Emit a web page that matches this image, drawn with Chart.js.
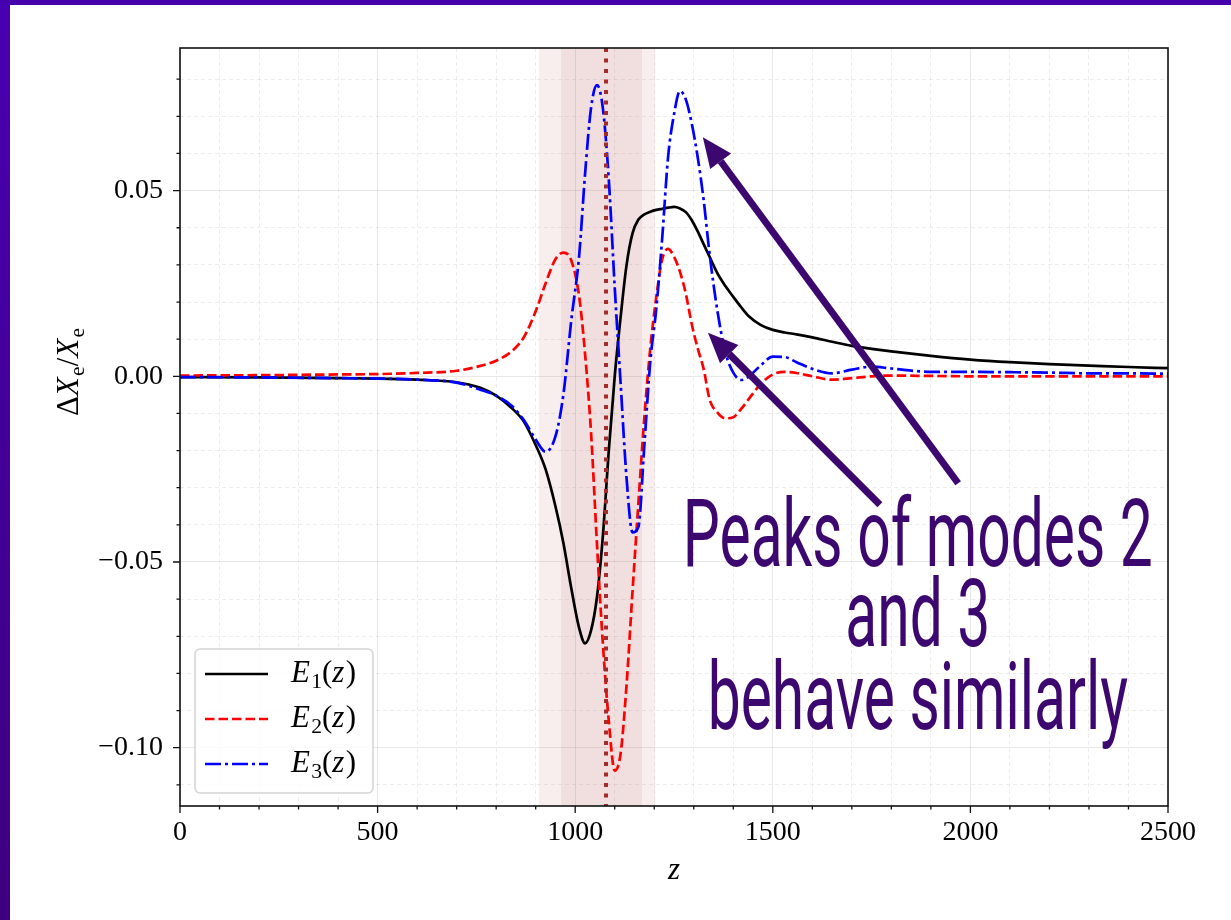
<!DOCTYPE html>
<html>
<head>
<meta charset="utf-8">
<script src="https://cdn.jsdelivr.net/npm/chart.js@4.4.1/dist/chart.umd.min.js"></script>
<style>
  html, body { margin: 0; padding: 0; background: #fff; overflow: hidden; }
  #wrap { position: relative; width: 1231px; height: 920px; }
  #chart { position: absolute; left: 0; top: 0; }
  #leftbar { position: absolute; left: 0; top: 0; width: 10px; height: 920px; background: linear-gradient(#4700b2, #3d007f); }
  #topbar { position: absolute; left: 0; top: 0; width: 1231px; height: 5px; background: #4500ae; }
</style>
</head>
<body>
<div id="wrap">
  <canvas id="chart" width="1231" height="920"></canvas>
  <div id="leftbar"></div>
  <div id="topbar"></div>
</div>
<script>
// redshift samples shared by the three modes
const zValues = [0, 200, 400, 500, 600, 700, 760, 800, 840, 870, 900, 925, 950, 970, 990, 1010,
  1025, 1040, 1055, 1070, 1085, 1100, 1115, 1130, 1145, 1160, 1175, 1190, 1205, 1220, 1235,
  1250, 1265, 1280, 1295, 1310, 1325, 1340, 1360, 1380, 1400, 1420, 1440, 1470, 1500, 1530,
  1560, 1600, 1650, 1700, 1750, 1800, 1900, 2000, 2100, 2200, 2300, 2400, 2500]

const e1Values = [-0.0002, -0.0003, -0.0005, -0.0006, -0.0009, -0.0016, -0.0031, -0.0052, -0.0086, -0.0122, -0.0185, -0.0250, -0.0350, -0.0448, -0.0570, -0.0678,
  -0.0719, -0.0685, -0.0595, -0.0430, -0.0200, 0.0000, 0.0160, 0.0300, 0.0385, 0.0422, 0.0436, 0.0443, 0.0448, 0.0451, 0.0454,
  0.0456, 0.0452, 0.0442, 0.0420, 0.0390, 0.0356, 0.0322, 0.0277, 0.0243, 0.0214, 0.0186, 0.0161, 0.0138, 0.0125, 0.0118,
  0.0113, 0.0105, 0.0093, 0.0082, 0.0074, 0.0067, 0.0055, 0.0045, 0.0038, 0.0033, 0.0029, 0.0025, 0.0022]

const e2Values = [0.0002, 0.0003, 0.0005, 0.0006, 0.0009, 0.0015, 0.0028, 0.0042, 0.0068, 0.0105, 0.0175, 0.0250, 0.0315, 0.0333, 0.0312, 0.0215,
  0.0060, -0.0150, -0.0450, -0.0720, -0.0928, -0.1062, -0.1015, -0.0830, -0.0580, -0.0340, -0.0110, 0.0075, 0.0212, 0.0315, 0.0343,
  0.0322, 0.0282, 0.0222, 0.0140, 0.0075, 0.0020, -0.0062, -0.0098, -0.0113, -0.0110, -0.0088, -0.0060, -0.0020, 0.0005, 0.0012,
  0.0009, 0.0000, -0.0009, -0.0005, 0.0000, 0.0002, 0.0001, 0.0000, 0.0000, 0.0000, 0.0000, 0.0000, 0.0000]

const e3Values = [-0.0002, -0.0003, -0.0005, -0.0006, -0.0009, -0.0017, -0.0036, -0.0052, -0.0080, -0.0118, -0.0170, -0.0203, -0.0162, -0.0050, 0.0150, 0.0325,
  0.0545, 0.0722, 0.0784, 0.0722, 0.0530, 0.0240, -0.0020, -0.0275, -0.0420, -0.0405, -0.0185, 0.0040, 0.0180, 0.0370, 0.0590,
  0.0705, 0.0768, 0.0745, 0.0680, 0.0590, 0.0475, 0.0330, 0.0175, 0.0065, 0.0010, -0.0010, 0.0000, 0.0030, 0.0053, 0.0052,
  0.0038, 0.0020, 0.0008, 0.0018, 0.0026, 0.0021, 0.0012, 0.0012, 0.0011, 0.0010, 0.0008, 0.0008, 0.0007]

const seriesLabels = ['E1(z)', 'E2(z)', 'E3(z)']

// shaded recombination window and its centre
const bandStarts = [908, 964]
const bandEnds = [1202, 1169]
const zStar = 1078

const xMajor = [0, 500, 1000, 1500, 2000, 2500]
const xMajorLabels = ['0', '500', '1000', '1500', '2000', '2500']
const xMinor = [100, 200, 300, 400, 600, 700, 800, 900, 1100, 1200, 1300, 1400, 1600, 1700, 1800, 1900, 2100, 2200, 2300, 2400]
const yMajor = [-0.10, -0.05, 0.00, 0.05]
const yMajorLabels = ['\u22120.10', '\u22120.05', '0.00', '0.05']
const yMinor = [-0.11, -0.09, -0.08, -0.07, -0.06, -0.04, -0.03, -0.02, -0.01, 0.01, 0.02, 0.03, 0.04, 0.06, 0.07, 0.08]

const noteLines = ['Peaks of modes 2', 'and 3', 'behave similarly']

const serif = '"Liberation Serif", "DejaVu Serif", serif'
const noteColor = '#3c0870'

function majorIndex(list, v) {
  for (let k = 0; k < list.length; k++)
    if (Math.abs(list[k] - v) < 1e-9) return k
  return -1
}

function points(vals) {
  return zValues.map((z, k) => ({x: z, y: vals[k]}))
}

function mathParts(label) {
  return label.split('').map(c => {
    if (c >= '0' && c <= '9') return [c, 's']
    if (c === '(' || c === ')' || c === '/') return [c, 'r']
    return [c, 'i']
  })
}

function drawMath(ctx, parts, x, y, size, dryRun) {
  let cx = x
  for (const [t, s] of parts) {
    const fs = s === 's' ? size * 0.7 : size
    ctx.font = (s === 'i' ? 'italic ' : '') + fs + 'px ' + serif
    if (!dryRun) ctx.fillText(t, cx, s === 's' ? y + size * 0.2 : y)
    cx += ctx.measureText(t).width + (s === 'i' ? size * 0.04 : 0)
  }
  return cx - x
}

function drawArrow(ctx, x0, y0, x1, y1) {
  const ang = Math.atan2(y1 - y0, x1 - x0)
  const headLen = 30, headHalf = 13
  const bx = x1 - headLen * Math.cos(ang), by = y1 - headLen * Math.sin(ang)
  ctx.strokeStyle = noteColor
  ctx.fillStyle = noteColor
  ctx.lineWidth = 7
  ctx.setLineDash([])
  ctx.beginPath(); ctx.moveTo(x0, y0); ctx.lineTo(bx, by); ctx.stroke()
  ctx.beginPath()
  ctx.moveTo(x1, y1)
  ctx.lineTo(bx + headHalf * Math.sin(ang), by - headHalf * Math.cos(ang))
  ctx.lineTo(bx - headHalf * Math.sin(ang), by + headHalf * Math.cos(ang))
  ctx.closePath()
  ctx.fill()
}

const decor = {
  id: 'decor',
  beforeDatasetsDraw(chart) {
    const {ctx, chartArea: a, scales: {x}} = chart
    ctx.save()
    ctx.beginPath(); ctx.rect(a.left, a.top, a.width, a.height); ctx.clip()
    ctx.fillStyle = 'rgba(165, 42, 42, 0.08)'
    for (let k = 0; k < bandStarts.length; k++) {
      const x0 = x.getPixelForValue(bandStarts[k])
      const x1 = x.getPixelForValue(bandEnds[k])
      ctx.fillRect(x0, a.top, x1 - x0, a.height)
    }
    ctx.restore()
  },
  afterDatasetsDraw(chart) {
    const {ctx, chartArea: a, scales: {x}} = chart
    const px = x.getPixelForValue(zStar)
    ctx.save()
    ctx.strokeStyle = '#a52a2a'
    ctx.lineWidth = 4
    ctx.setLineDash([4, 6.5])
    ctx.beginPath(); ctx.moveTo(px, a.top); ctx.lineTo(px, a.bottom); ctx.stroke()
    ctx.restore()
  },
  afterDraw(chart) {
    const {ctx, chartArea: a, scales: {x, y}} = chart
    ctx.save()

    // axes frame and outward ticks
    ctx.strokeStyle = '#111'
    ctx.lineWidth = 1.6
    ctx.setLineDash([])
    ctx.strokeRect(a.left, a.top, a.width, a.height)
    ctx.lineWidth = 1.3
    ctx.beginPath()
    for (const v of xMajor.concat(xMinor)) {
      const p = x.getPixelForValue(v)
      ctx.moveTo(p, a.bottom); ctx.lineTo(p, a.bottom + (majorIndex(xMajor, v) >= 0 ? 7 : 3.5))
    }
    for (const v of yMajor.concat(yMinor)) {
      const p = y.getPixelForValue(v)
      ctx.moveTo(a.left, p); ctx.lineTo(a.left - (majorIndex(yMajor, v) >= 0 ? 7 : 3.5), p)
    }
    ctx.stroke()

    // legend
    const lx = a.left + 15, ly = a.bottom - 157, lw = 178, lh = 144
    ctx.fillStyle = 'rgba(255,255,255,0.8)'
    ctx.strokeStyle = '#d4d4d4'
    ctx.lineWidth = 1.5
    ctx.beginPath(); ctx.roundRect(lx, ly, lw, lh, 5); ctx.fill(); ctx.stroke()
    chart.data.datasets.forEach((ds, k) => {
      const rowY = ly + 25 + k * 45
      ctx.strokeStyle = ds.borderColor
      ctx.lineWidth = ds.borderWidth
      ctx.setLineDash(ds.borderDash || [])
      ctx.beginPath(); ctx.moveTo(lx + 10, rowY); ctx.lineTo(lx + 73, rowY); ctx.stroke()
      ctx.setLineDash([])
      ctx.fillStyle = '#000'
      ctx.textBaseline = 'alphabetic'
      drawMath(ctx, mathParts(seriesLabels[k]), lx + 96, rowY + 8, 31)
    })

    // y axis label
    const yParts = [['\u0394', 'r'], ['X', 'i'], ['e', 's'], ['/', 'r'], ['X', 'i'], ['e', 's']]
    ctx.save()
    ctx.translate(68, 372)
    ctx.rotate(-Math.PI / 2)
    ctx.fillStyle = '#000'
    const w = drawMath(ctx, yParts, 0, 0, 31, true)
    drawMath(ctx, yParts, -w / 2, 10, 31)
    ctx.restore()

    // annotation arrows and note
    drawArrow(ctx, x.getPixelForValue(1969), y.getPixelForValue(-0.0288), x.getPixelForValue(1323), y.getPixelForValue(0.0644))
    drawArrow(ctx, x.getPixelForValue(1771), y.getPixelForValue(-0.0346), x.getPixelForValue(1336), y.getPixelForValue(0.0117))

    ctx.font = '400 95px Roboto, "Open Sans", sans-serif'
    ctx.fillStyle = noteColor
    ctx.textAlign = 'center'
    ctx.textBaseline = 'alphabetic'
    const sx = 470 / ctx.measureText(noteLines[0]).width
    const cx = x.getPixelForValue(1867)
    const baselines = [-0.0511, -0.0726, -0.0949]
    noteLines.forEach((t, k) => {
      ctx.save()
      ctx.translate(cx, y.getPixelForValue(baselines[k]))
      ctx.scale(sx, 1)
      ctx.fillText(t, 0, 0)
      ctx.restore()
    })
    ctx.restore()
  }
}

const majorGrid = 'rgba(0,0,0,0.09)'
const minorGrid = 'rgba(0,0,0,0.07)'

new Chart(document.getElementById('chart'), {
  type: 'line',
  data: {
    datasets: [
      {label: seriesLabels[0], data: points(e1Values), borderColor: '#000000', borderWidth: 2.7, order: 3},
      {label: seriesLabels[1], data: points(e2Values), borderColor: '#ff0000', borderWidth: 2.7, borderDash: [9.5, 4], order: 2},
      {label: seriesLabels[2], data: points(e3Values), borderColor: '#0000ff', borderWidth: 2.7, borderDash: [16, 4, 3, 4], order: 1}
    ]
  },
  options: {
    responsive: false,
    maintainAspectRatio: false,
    devicePixelRatio: 1,
    animation: false,
    events: [],
    layout: {padding: {top: 48, right: 63, bottom: 0, left: 0}},
    elements: {
      point: {radius: 0},
      line: {cubicInterpolationMode: 'monotone', fill: false}
    },
    plugins: {legend: {display: false}, tooltip: {enabled: false}},
    scales: {
      x: {
        type: 'linear',
        min: 0,
        max: 2500,
        afterBuildTicks: s => { s.ticks = xMajor.concat(xMinor).sort((p, q) => p - q).map(v => ({value: v})) },
        afterFit: s => { s.height = 114 },
        ticks: {
          autoSkip: false,
          maxRotation: 0,
          padding: 10,
          color: '#000',
          font: {family: serif, size: 28},
          callback: v => { const k = majorIndex(xMajor, v); return k >= 0 ? xMajorLabels[k] : '' }
        },
        grid: {
          drawTicks: false,
          lineWidth: 1,
          color: c => (c.tick && majorIndex(xMajor, c.tick.value) >= 0) ? majorGrid : minorGrid
        },
        border: {
          display: false,
          dash: c => (c.tick && majorIndex(xMajor, c.tick.value) >= 0) ? [] : [4, 3]
        },
        title: {
          display: true,
          text: 'z',
          color: '#000',
          font: {family: serif, size: 31, style: 'italic'},
          padding: {top: 0, bottom: 31}
        }
      },
      y: {
        type: 'linear',
        min: -0.1157,
        max: 0.0884,
        afterBuildTicks: s => { s.ticks = yMajor.concat(yMinor).sort((p, q) => p - q).map(v => ({value: v})) },
        afterFit: s => { s.width = 180 },
        ticks: {
          autoSkip: false,
          padding: 17,
          color: '#000',
          font: {family: serif, size: 28},
          callback: v => { const k = majorIndex(yMajor, v); return k >= 0 ? yMajorLabels[k] : '' }
        },
        grid: {
          drawTicks: false,
          lineWidth: 1,
          color: c => (c.tick && majorIndex(yMajor, c.tick.value) >= 0) ? majorGrid : minorGrid
        },
        border: {
          display: false,
          dash: c => (c.tick && majorIndex(yMajor, c.tick.value) >= 0) ? [] : [4, 3]
        }
      }
    }
  },
  plugins: [decor]
})
</script>
</body>
</html>
